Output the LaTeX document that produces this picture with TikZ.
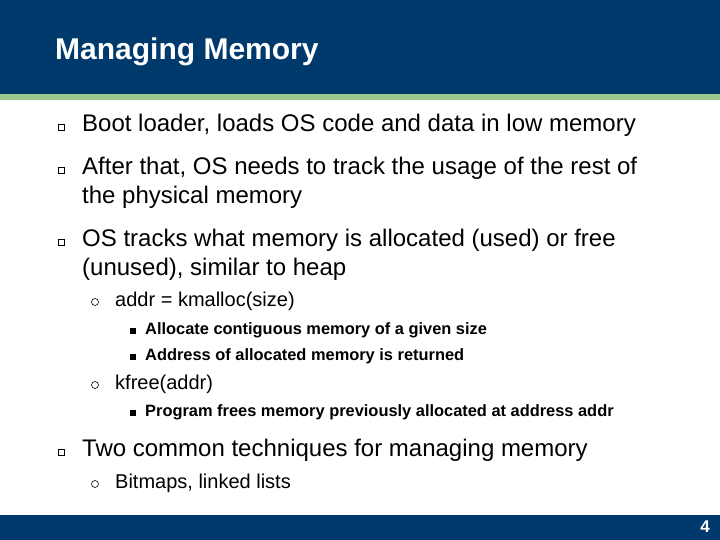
\documentclass[tikz,border=0pt]{standalone}
\usepackage{fontspec}
\setmainfont{Liberation Sans}
\definecolor{navy}{HTML}{003A6C}
\definecolor{stripe}{HTML}{9CC890}
\begin{document}
\begin{tikzpicture}[x=1pt,y=-1pt,
 t1/.style={anchor=west,inner sep=0pt,font=\fontsize{24}{28}\selectfont},
 t2/.style={anchor=west,inner sep=0pt,font=\fontsize{20}{24}\selectfont},
 t3/.style={anchor=west,inner sep=0pt,font=\fontsize{16.4}{20}\selectfont\bfseries},
 sq/.style={draw=black,line width=0.7pt,minimum size=6pt,inner sep=0pt},
 ring/.style={circle,draw=black,line width=0.6pt,minimum size=7pt,inner sep=0pt},
 blk/.style={fill=black,minimum size=6pt,inner sep=0pt}]
\useasboundingbox (0,0) rectangle (720,540);
\fill[white] (0,0) rectangle (720,540);
\fill[navy] (0,0) rectangle (720,94);
\fill[stripe] (0,94) rectangle (720,100);
\fill[navy] (0,515) rectangle (720,540);
\node[anchor=west,inner sep=0pt,text=white,font=\fontsize{30}{34}\selectfont\bfseries] (title) at (55,52) {Managing Memory};
\node[anchor=east,inner sep=0pt,text=white,font=\fontsize{17}{20}\selectfont\bfseries] (pg) at (710,527) {4};
\node[sq] (b1) at (61,127) {};
\node[t1] (l1) at (82,125) {Boot loader, loads OS code and data in low memory};
\node[sq] (b2) at (61,170) {};
\node[t1] (l2) at (82,168) {After that, OS needs to track the usage of the rest of};
\node[t1] (l2b) at (82,197) {the physical memory};
\node[sq] (b3) at (61,242) {};
\node[t1] (l3) at (82,240) {OS tracks what memory is allocated (used) or free};
\node[t1] (l3b) at (82,269) {(unused), similar to heap};
\node[ring] (r1) at (95,302) {};
\node[t2] (s1) at (115,301) {addr = kmalloc(size)};
\node[blk] (k1) at (133,331) {};
\node[t3] (ss1) at (145,330) {Allocate contiguous memory of a given size};
\node[blk] (k2) at (133,357) {};
\node[t3] (ss2) at (145,356) {Address of allocated memory is returned};
\node[ring] (r2) at (95,385) {};
\node[t2] (s2) at (115,384) {kfree(addr)};
\node[blk] (k3) at (133,413) {};
\node[t3] (ss3) at (145,412) {Program frees memory previously allocated at address addr};
\node[sq] (b4) at (61,452) {};
\node[t1] (l4) at (82,450) {Two common techniques for managing memory};
\node[ring] (r3) at (95,484) {};
\node[t2] (s3) at (115,483) {Bitmaps, linked lists};
\end{tikzpicture}
\end{document}
